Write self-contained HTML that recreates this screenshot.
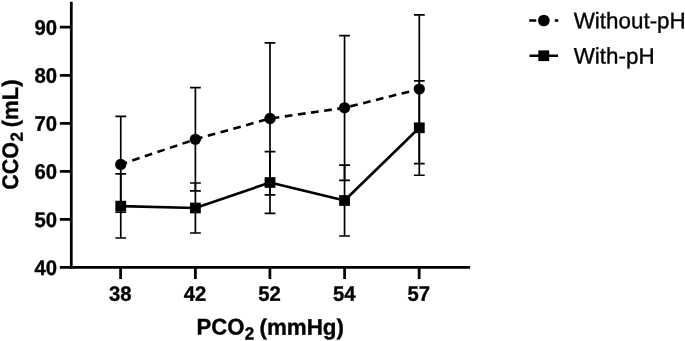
<!DOCTYPE html>
<html><head><meta charset="utf-8"><title>CCO2 vs PCO2</title>
<style>
html,body{margin:0;padding:0;background:#fff;}
svg{display:block;text-rendering:geometricPrecision;font-family:"Liberation Sans",Arial,sans-serif;fill:#000;}
.b{font-weight:bold;}
</style></head><body>
<svg width="685" height="341" viewBox="0 0 685 341">
<rect width="685" height="341" fill="#fff"/>
<g fill="none" stroke="#000">
<path d="M120.75 116.4V212.25M115.35 116.4h10.8M115.35 212.25h10.8M195.4 87.65V190.9M190.00 87.65h10.8M190.00 190.9h10.8M270.0 42.95V194.97M264.60 42.95h10.8M264.60 194.97h10.8M344.55 35.55V180.4M339.15 35.55h10.8M339.15 180.4h10.8M419.3 14.95V163.7M413.90 14.95h10.8M413.90 163.7h10.8" stroke-width="1.7"/>
<path d="M120.75 173.9V238.0M115.35 173.9h10.8M115.35 238.0h10.8M195.4 183.0V233.0M190.00 183.0h10.8M190.00 233.0h10.8M270.0 151.55V213.4M264.60 151.55h10.8M264.60 213.4h10.8M344.55 165.2V236.0M339.15 165.2h10.8M339.15 236.0h10.8M419.3 80.8V175.25M413.90 80.8h10.8M413.90 175.25h10.8" stroke-width="1.7"/>
<polyline points="120.75,164.4 195.4,139.3 270.0,118.5 344.55,107.8 419.3,89.1" stroke-width="2.6" stroke-dasharray="7.7 5.55" stroke-dashoffset="1.1"/>
<polyline points="120.75,206.1 195.4,208.0 270.0,182.5 344.55,200.5 419.3,127.8" stroke-width="2.6" stroke-linejoin="round"/>
<path d="M71.3 1.8V268.825M69.925 267.45H470.2" stroke-width="2.75"/>
<path d="M59.9 267.45H71.3M59.9 219.40H71.3M59.9 171.35H71.3M59.9 123.30H71.3M59.9 75.25H71.3M59.9 27.20H71.3M120.6 267.45V279.0M195.4 267.45V279.0M269.9 267.45V279.0M344.6 267.45V279.0M419.15 267.45V279.0" stroke-width="2.75"/>
<path d="M529.2 20.5H536.3M554.8 20.5H558.3M529.5 55.7H558" stroke-width="2.6"/>
</g>
<circle cx="120.75" cy="164.4" r="5.65"/><circle cx="195.4" cy="139.3" r="5.65"/><circle cx="270.0" cy="118.5" r="5.65"/><circle cx="344.55" cy="107.8" r="5.65"/><circle cx="419.3" cy="89.1" r="5.65"/>
<rect x="115.35" y="200.75" width="10.8" height="10.7"/><rect x="190.00" y="202.65" width="10.8" height="10.7"/><rect x="264.60" y="177.15" width="10.8" height="10.7"/><rect x="339.15" y="195.15" width="10.8" height="10.7"/><rect x="413.90" y="122.45" width="10.8" height="10.7"/>
<circle cx="543.85" cy="20.5" r="5.85"/>
<rect x="538.3" y="50.4" width="10.9" height="10.7"/>
<text class="b" text-anchor="end" stroke="#000" stroke-width="0.35" font-size="20.3" transform="translate(57.1 274.95) rotate(0.03) scale(1.0 1.035)">40</text>
<text class="b" text-anchor="end" stroke="#000" stroke-width="0.35" font-size="20.3" transform="translate(57.1 226.9) rotate(0.03) scale(1.0 1.035)">50</text>
<text class="b" text-anchor="end" stroke="#000" stroke-width="0.35" font-size="20.3" transform="translate(57.1 178.85) rotate(0.03) scale(1.0 1.035)">60</text>
<text class="b" text-anchor="end" stroke="#000" stroke-width="0.35" font-size="20.3" transform="translate(57.1 130.8) rotate(0.03) scale(1.0 1.035)">70</text>
<text class="b" text-anchor="end" stroke="#000" stroke-width="0.35" font-size="20.3" transform="translate(57.1 82.75) rotate(0.03) scale(1.0 1.035)">80</text>
<text class="b" text-anchor="end" stroke="#000" stroke-width="0.35" font-size="20.3" transform="translate(57.1 34.7) rotate(0.03) scale(1.0 1.035)">90</text>
<text class="b" text-anchor="middle" stroke="#000" stroke-width="0.35" font-size="20.3" transform="translate(120.3 300.7) rotate(0.03) scale(1.0 1.02)">38</text>
<text class="b" text-anchor="middle" stroke="#000" stroke-width="0.35" font-size="20.3" transform="translate(195.1 300.7) rotate(0.03) scale(1.0 1.02)">42</text>
<text class="b" text-anchor="middle" stroke="#000" stroke-width="0.35" font-size="20.3" transform="translate(269.59999999999997 300.7) rotate(0.03) scale(1.0 1.02)">52</text>
<text class="b" text-anchor="middle" stroke="#000" stroke-width="0.35" font-size="20.3" transform="translate(344.3 300.7) rotate(0.03) scale(1.0 1.02)">54</text>
<text class="b" text-anchor="middle" stroke="#000" stroke-width="0.35" font-size="20.3" transform="translate(418.84999999999997 300.7) rotate(0.03) scale(1.0 1.02)">57</text>
<text class="b" stroke="#000" stroke-width="0.35" font-size="22.1" transform="translate(196.5 334.6) rotate(0.03) scale(1.0 1.02)">PCO</text>
<text class="b" stroke="#000" stroke-width="0.35" font-size="17" transform="translate(244.65 339.6) rotate(0.03) scale(1.0 1.03)">2</text>
<text class="b" stroke="#000" stroke-width="0.35" font-size="22.1" transform="translate(259.5 334.75) rotate(0.03) scale(1.012 1.02)">(mmHg)</text>
<text class="b" stroke="#000" stroke-width="0.35" font-size="22.1" transform="translate(18.0 189.8) rotate(-89.97) scale(0.97 1.02)">CCO</text>
<text class="b" stroke="#000" stroke-width="0.35" font-size="17" transform="translate(22.7 141.4) rotate(-89.97) scale(1.0 1.03)">2</text>
<text class="b" stroke="#000" stroke-width="0.35" font-size="22.1" transform="translate(18.0 127.3) rotate(-89.97) scale(1.0 1.02)">(mL)</text>
<text stroke="#000" stroke-width="0.35" font-size="22" transform="translate(573.7 28.3) rotate(0.03) scale(1.018 1.02)">Without-pH</text>
<text stroke="#000" stroke-width="0.35" font-size="22" transform="translate(573.7 63.6) rotate(0.03) scale(1.018 1.02)">With-pH</text>
</svg>
</body></html>
